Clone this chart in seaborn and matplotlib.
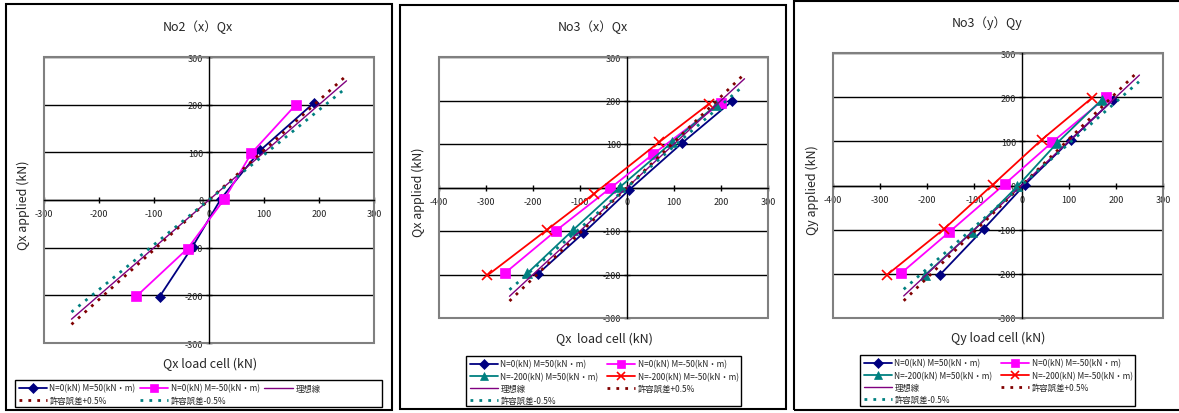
import matplotlib
matplotlib.use("Agg")
import matplotlib.pyplot as plt
from matplotlib.patches import Rectangle
import seaborn as sns

W, H = 1179, 414

# ---------------- texts ----------------
titles = ["No2（x）Qx", "No3（x）Qx", "No3（y）Qy"]
xlabels = ["Qx load cell (kN)", "Qx  load cell (kN)", "Qy load cell (kN)"]
ylabels = ["Qx applied (kN)", "Qx applied (kN)", "Qy applied (kN)"]
series_names = ["N=0(kN) M=50(kN・m)", "N=0(kN) M=-50(kN・m)",
                "N=-200(kN) M=50(kN・m)", "N=-200(kN) M=-50(kN・m)"]
ideal_name = "理想線"
plus_name = "許容誤差+0.5%"
minus_name = "許容誤差-0.5%"

# ---------------- data ----------------
# Panel 1 : No2 (x) Qx
p1_s1_x = [190, 93, 22, -30, -90]
p1_s1_y = [203, 104, 3, -98, -203]
p1_s2_x = [158, 77, 28, -39, -132]
p1_s2_y = [200, 98, 2, -102, -202]

# Panel 2 : No3 (x) Qx
p2_s1_x = [223, 117, 4, -93, -189]
p2_s1_y = [198, 102, -6, -105, -198]
p2_s2_x = [201, 56, -36, -152, -260]
p2_s2_y = [195, 77, -2, -100, -197]
p2_s3_x = [190, 96, -14, -114, -212]
p2_s3_y = [190, 104, 2, -97, -197]
p2_s4_x = [174, 68, -71, -170, -297]
p2_s4_y = [192, 104, -15, -97, -202]

# Panel 3 : No3 (y) Qy
p3_s1_x = [194, 104, 7, -80, -173]
p3_s1_y = [194, 103, 2, -98, -202]
p3_s2_x = [180, 65, -36, -153, -255]
p3_s2_y = [200, 98, 3, -105, -198]
p3_s3_x = [170, 76, -9, -105, -205]
p3_s3_y = [194, 97, -2, -105, -203]
p3_s4_x = [149, 43, -61, -164, -285]
p3_s4_y = [198, 104, 2, -98, -202]

# reference lines
ideal_x = [-250, 250]
ideal_y = [-250, 250]
plus_x = [-250, 245]
plus_y = [-261, 256]
minus_x = [-250, 249]
minus_y = [-235, 235]

x_ticks_p1 = [-300, -200, -100, 0, 100, 200, 300]
x_ticks_p23 = [-400, -300, -200, -100, 0, 100, 200, 300]
y_ticks = [-300, -200, -100, 0, 100, 200, 300]

# ---------------- style ----------------
sns.set_theme(style="white")
plt.rcParams["font.family"] = ["Noto Sans CJK JP", "DejaVu Sans"]
plt.rcParams["axes.unicode_minus"] = False

series_styles = [
    dict(color="#000080", marker="D", markersize=5.5),
    dict(color="#FF00FF", marker="s", markersize=6.5),
    dict(color="#008080", marker="^", markersize=6.5),
    dict(color="#FF0000", marker="x", markersize=6.5, markeredgewidth=1.2),
]

fig = plt.figure(figsize=(W / 100, H / 100), dpi=100)


def fbox(l, t, r, b):
    return [l / W, 1 - b / H, (r - l) / W, (b - t) / H]


def fpt(x, y):
    return x / W, 1 - y / H


def rect_px(l, t, r, b, lw):
    fig.patches.append(Rectangle((l / W, 1 - b / H), (r - l) / W, (b - t) / H,
                                 transform=fig.transFigure, fill=False,
                                 edgecolor="black", linewidth=lw))


def panel(plot_px, border_px, xlim, xticks, data, ti, title_px, xl_px, yl_px,
          leg_px, ncol, order, colsp):
    rect_px(*border_px, 1.5)
    ax = fig.add_axes(fbox(*plot_px))
    ax.set_facecolor("white")
    handles = []
    for i, (xs, ys) in enumerate(data):
        st = series_styles[i]
        sns.lineplot(x=xs, y=ys, ax=ax, sort=False, estimator=None,
                     color=st["color"], marker=st["marker"],
                     markersize=st["markersize"],
                     markeredgewidth=st.get("markeredgewidth", 0.5),
                     markeredgecolor=st["color"], linewidth=1.3, zorder=4)
        handles.append(ax.lines[-1])
        handles[-1].set_label(series_names[i])
    sns.lineplot(x=ideal_x, y=ideal_y, ax=ax, sort=False, estimator=None,
                 color="#800080", linewidth=1.0, zorder=4)
    h_ideal = ax.lines[-1]
    h_ideal.set_label(ideal_name)
    sns.lineplot(x=plus_x, y=plus_y, ax=ax, sort=False, estimator=None,
                 color="#800000", linewidth=2.0, linestyle=(0, (1, 2.2)), zorder=4)
    h_plus = ax.lines[-1]
    h_plus.set_label(plus_name)
    sns.lineplot(x=minus_x, y=minus_y, ax=ax, sort=False, estimator=None,
                 color="#008080", linewidth=2.0, linestyle=(0, (1, 2.2)), zorder=4)
    h_minus = ax.lines[-1]
    h_minus.set_label(minus_name)

    ax.set_xlim(*xlim)
    ax.set_ylim(-300, 300)
    ax.set_xticks(xticks)
    ax.set_yticks(y_ticks)
    ax.set_xticklabels([str(v) for v in xticks])
    ax.set_yticklabels([str(v) for v in y_ticks])
    ax.spines["left"].set_position(("data", 0))
    ax.spines["bottom"].set_position(("data", 0))
    ax.spines["top"].set_visible(False)
    ax.spines["right"].set_visible(False)
    for s in ("left", "bottom"):
        ax.spines[s].set_color("black")
        ax.spines[s].set_linewidth(1.0)
        ax.spines[s].set_zorder(3)
    ax.add_patch(Rectangle((0, 0), 1, 1, transform=ax.transAxes, fill=False,
                           edgecolor="#808080", linewidth=1.5, clip_on=False,
                           zorder=3))
    ax.yaxis.grid(True, color="black", linewidth=1.0, zorder=1)
    ax.xaxis.grid(False)
    ax.set_axisbelow(True)
    ax.tick_params(axis="both", direction="inout", length=5, width=1,
                   color="black", labelsize=6.5, labelcolor="#222222")
    ax.tick_params(axis="x", pad=4, bottom=True)
    ax.tick_params(axis="y", pad=1.5, left=True)
    ax.set_xlabel("")
    ax.set_ylabel("")
    if ax.get_legend() is not None:
        ax.get_legend().remove()

    fig.text(*fpt(*title_px), ti, ha="center", va="center", fontsize=9)
    fig.text(*fpt(*xl_px[0:2]), xl_px[2], ha="center", va="center", fontsize=9)
    fig.text(*fpt(*yl_px[0:2]), yl_px[2], ha="center", va="center",
             fontsize=9, rotation=90)

    hs = handles + [h_ideal, h_plus, h_minus]
    keys = ["s%d" % i for i in range(len(handles))] + ["ideal", "plus", "minus"]
    lookup = dict(zip(keys, hs))
    ordered = [lookup[k] for k in order]
    ll, lt, lr, lb = leg_px
    rect_px(ll, lt, lr, lb, 1.0)
    fig.legend(handles=ordered, labels=[h.get_label() for h in ordered],
               loc="upper left", bbox_to_anchor=fpt(ll + 1, lt + 1),
               ncol=ncol, fontsize=6.0, frameon=False,
               handlelength=3.4, handletextpad=0.3, borderpad=0.3,
               labelspacing=0.38, borderaxespad=0, columnspacing=colsp,
               markerscale=0.85)
    return ax


panel(plot_px=(44, 58, 374, 344), border_px=(6, 5, 392, 411),
      xlim=(-300, 300), xticks=x_ticks_p1,
      data=[(p1_s1_x, p1_s1_y), (p1_s2_x, p1_s2_y)],
      ti=titles[0], title_px=(198, 27),
      xl_px=(210, 364, xlabels[0]), yl_px=(23, 205, ylabels[0]),
      leg_px=(15, 381, 382, 408), ncol=3,
      order=["s0", "plus", "s1", "minus", "ideal"], colsp=0.55)

panel(plot_px=(439, 58, 768, 319), border_px=(400, 6, 786, 410),
      xlim=(-400, 300), xticks=x_ticks_p23,
      data=[(p2_s1_x, p2_s1_y), (p2_s2_x, p2_s2_y),
            (p2_s3_x, p2_s3_y), (p2_s4_x, p2_s4_y)],
      ti=titles[1], title_px=(593, 27),
      xl_px=(604, 339, xlabels[1]), yl_px=(418, 192, ylabels[1]),
      leg_px=(466, 357, 741, 407), ncol=2,
      order=["s0", "s2", "ideal", "minus", "s1", "s3", "plus"], colsp=1.0)

panel(plot_px=(833, 54, 1163, 319), border_px=(794, 2, 1185, 411),
      xlim=(-400, 300), xticks=x_ticks_p23,
      data=[(p3_s1_x, p3_s1_y), (p3_s2_x, p3_s2_y),
            (p3_s3_x, p3_s3_y), (p3_s4_x, p3_s4_y)],
      ti=titles[2], title_px=(987, 23),
      xl_px=(998, 338, xlabels[2]), yl_px=(812, 190, ylabels[2]),
      leg_px=(860, 356, 1135, 407), ncol=2,
      order=["s0", "s2", "ideal", "minus", "s1", "s3", "plus"], colsp=1.0)

fig.savefig("out.png", dpi=100, facecolor="white")
